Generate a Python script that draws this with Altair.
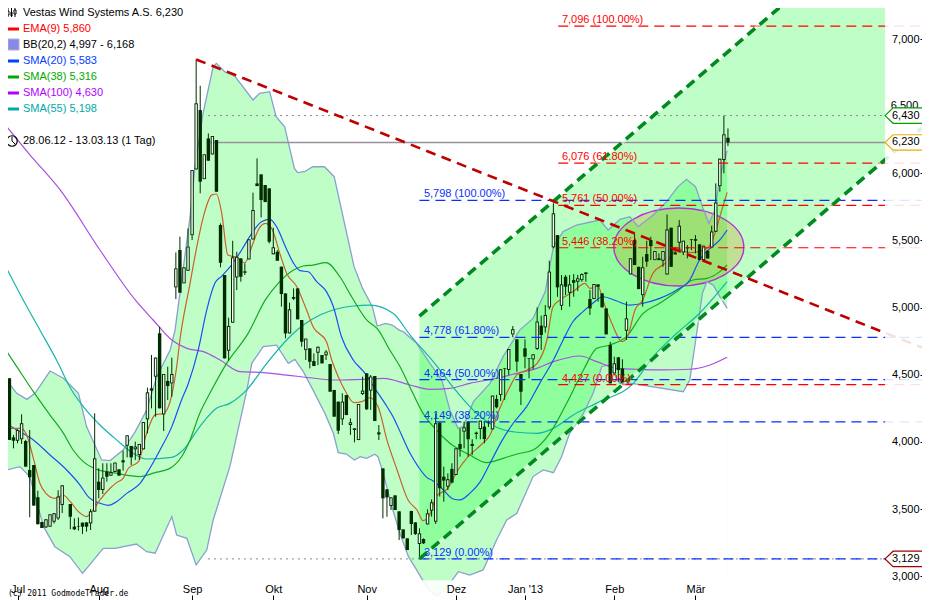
import altair as alt
import pandas as pd

FONT = "Liberation Sans"

# ---------- candles (session index = list position; None = no bar) ----------
body_top = [4114,4429,4474,4034,4089,4139,4007,3791,3828,3588,3404,3424,3461,3469,3593,3677,None,3538,3369,3372,
 3399,3401,3483,3878,3704,3734,3779,3774,3846,3796,3863,4049,3970,3965,3985,4148,4369,4399,4628,4809,
 4506,4454,4506,5292,5429,5300,5454,6024,6521,6471,6141,6260,6278,6248,5615,5243,4863,5374,5379,5367,
 5270,5508,5727,5925,5992,5913,5888,5449,5416,5305,5106,4987,5079,5143,4908,4769,4697,4602,4709,4647,
 4672,4580,4387,4300,4300,4349,4146,4101,4282,4382,4511,4486,4491,4071,3803,3647,3587,3602,3483,3349,
 3282,3486,3401,3319,3277,3468,3550,4139,4144,3741,3722,3799,3952,3985,4109,4151,3985,4069,4158,4114,
 4146,4345,4320,4541,4548,4692,4839,4764,4506,4697,4623,4652,4896,4866,4945,5268,5702,5540,5173,5230,
 5173,5205,5218,5250,5262,5064,5176,5173,5106,4994,4721,4585,4630,4547,4920,5367,5503,5304,5300,5399,
 5503,5421,5367,5421,5582,5595,5411,5610,5498,5451,5510,5510,5471,5461,5424,5567,5783,6109,6290,6265]
body_bot = [3940,4183,4015,4009,4009,4020,3816,3737,3526,3387,3359,3364,3369,3406,3431,3531,None,3443,3349,3368,
 3369,3369,3394,3481,3642,3642,3741,3749,3776,3749,3848,3972,3885,3945,3903,3945,4168,4382,4486,4250,
 4205,4416,4436,5151,5111,5181,5275,5540,6029,5938,5957,6094,6141,5863,5334,4622,4679,4888,5225,5230,
 5260,5359,5508,5905,5801,5786,5491,5397,5349,5101,4808,4808,5066,4913,4746,4684,4597,4565,4664,4585,
 4645,4374,4188,4084,4168,4200,4126,4089,4014,4357,4243,4382,4156,4056,3580,3587,3523,3493,3344,3282,
 3195,3389,3314,3240,3245,3386,3488,3406,3655,3712,3667,3697,3754,3948,4077,4020,3970,4059,4096,4022,
 4139,4094,4258,4350,4543,4536,4801,4598,4374,4635,4618,4615,4692,4796,4853,5002,5449,5151,5014,5156,
 5111,5185,5193,5205,5250,4994,5064,5156,5002,4801,4436,4510,4535,4436,4828,5248,5317,5138,5093,5342,
 5458,5354,5354,5349,5247,5304,5396,5483,5411,5441,5505,5498,5354,5354,5366,5448,5565,5905,6099,6230]
high = [4139,4437,4474,4052,4094,4206,4015,4089,3828,3637,3404,3424,3461,3469,3640,3677,None,3538,3431,3437,
 3399,3401,3500,4213,3804,3841,3841,3841,3846,3796,3935,4049,3970,4002,3985,4148,4404,4647,4628,4858,
 4506,4560,4628,5411,5528,5300,5590,6024,6848,6652,6141,6297,6278,6248,5627,5243,4925,5498,5416,5367,
 5330,5508,5856,6111,5992,5913,5888,5595,5428,5305,5106,5037,5143,5143,4908,4769,4697,4659,4709,4647,
 4684,4580,4387,4300,4362,4349,4176,4101,4282,4486,4511,4498,4491,4126,3803,3647,3587,3602,3483,3349,
 3282,3486,3401,3357,3282,3498,3572,4213,4144,3816,3766,3841,3952,4101,4151,4151,4020,4077,4158,4151,
 4160,4345,4350,4541,4548,4692,4863,4764,4506,4764,4623,4652,5002,4940,5020,5350,5801,5540,5243,5243,
 5243,5250,5243,5255,5262,5131,5176,5173,5106,4994,4746,4635,4630,4615,5044,5367,5548,5304,5379,5498,
 5528,5421,5404,5421,5694,5595,5453,5652,5498,5466,5510,5540,5471,5461,5424,5610,5925,6109,6429,6334]
low = [3890,4163,4015,3952,3990,3985,3816,3439,3526,3387,3359,3359,3369,3392,3419,3470,None,3350,3344,3340,
 3315,3332,3344,3481,3580,3612,3704,3749,3776,3749,3786,3885,3828,3866,3866,3945,4064,4250,4188,4250,
 4081,4312,4337,5064,5111,5181,5275,5503,6029,5851,5957,6094,6141,5863,5300,4622,4605,4888,5131,5193,
 5243,5359,5508,5905,5672,5786,5478,5397,5349,5007,4771,4808,5056,4913,4709,4610,4548,4565,4572,4585,
 4610,4374,4188,4059,4126,4200,4052,3997,4014,4349,4238,4238,4156,4014,3431,3443,3493,3493,3270,3282,
 3195,3307,3307,3129,3240,3386,3443,3389,3593,3555,3642,3692,3754,3890,3952,3890,3903,4020,4020,3990,
 4112,4094,4250,4305,4313,4499,4779,4523,4275,4548,4474,4541,4685,4685,4814,4987,5441,5081,4982,5094,
 5007,5081,5123,5193,5193,4945,5064,5044,5002,4801,4436,4510,4448,4423,4759,5248,5317,5138,5007,5304,
 5354,5354,5354,5304,5247,5304,5396,5416,5391,5367,5429,5404,5354,5354,5366,5448,5565,5863,6000,6203]
hollow = [1,1,0,0,1,1,0,0,0,0,0,1,1,1,1,1,None,0,0,0,
 0,0,1,1,0,1,0,1,1,0,1,1,0,1,1,1,1,0,1,0,
 1,0,1,1,0,1,1,1,1,0,1,0,1,0,0,0,1,1,1,0,
 0,1,1,0,0,0,0,1,0,0,0,1,0,0,0,1,0,0,1,0,
 1,0,0,0,1,0,1,0,1,1,0,1,0,1,0,0,1,0,0,0,
 0,0,0,1,0,1,1,1,0,0,1,0,1,0,1,0,0,0,1,0,
 0,1,0,1,0,1,1,0,0,0,0,1,1,0,1,1,1,0,1,0,
 1,0,1,1,0,0,1,0,0,0,0,1,0,0,1,1,0,0,1,0,
 0,1,0,1,1,0,1,1,1,0,0,0,0,1,0,1,1,1,1,0]

# ---------- Bollinger band edges ----------
upper_s = [0,1.3,3.8,6.3,8.3,12,15.3,19,21,24.7,26.8,30,33,35.8,38.3,41.6,42.8,46.5,47.7,49.7,52.2,53,55,57.5,62,63.6,66.1,67.7,69.8,72.2,73,74.7,76.7,79.6,82,84,86.9,89,91.4,92.6,94.7,96.3,98,99,102.3,105.6,108.5,110.5,112.5,113.8,116.3,120.4,123.6,127.7,131,134,136,138.4,141.7,147.4,149.5,152.4,154.8,156.9,160.6,163.9,166.7,168.8,171,172.7,174.3,175.8,177,178.8]
upper_p = [4623,4461,4362,4317,4362,4528,4474,4362,4114,3866,3861,3939,4077,4238,4486,4685,4833,5677,6049,6446,6794,6819,6757,6724,6546,6595,6608,6422,6347,6037,6005,6012,6049,6049,5975,5702,5305,5143,5007,4863,4883,4870,4833,4821,4734,4585,4461,4238,4101,4114,4300,4436,4635,4833,4920,5119,5454,5566,5615,5652,5578,5657,5677,5603,5690,5789,5901,5955,5901,5752,5628,5727,5975,6169]
lower_s = [0,1.3,4.6,7,10.4,13.2,16.9,20,21.4,25.1,28,33.3,35.8,37.9,42,43.2,45.7,48,50.6,52.2,56.3,60.5,61.7,64.5,67.8,70.7,72.3,74.4,76.8,79.7,81.8,83,85,87,88.4,90,92,92.8,94.1,96.2,98.2,100.3,102.3,105.2,107.2,109.3,112.6,115.4,118.7,122,124.5,127,131,133.5,136,138,140,143.2,145.8,147.9,149.5,152.4,155.3,168,169.6,171.3,172.7,173.8,175.4,177,178.8]
lower_p = [3717,3791,3816,3742,3369,3220,3146,3022,3071,3208,3208,3240,3183,3171,3444,3307,3282,3084,3195,3419,3816,4386,4585,4709,4721,4585,4615,4523,4386,4213,4064,3920,3910,3865,3890,3878,3908,3890,3766,3518,3319,3146,3047,2898,2853,2898,3034,3009,3047,3270,3419,3469,3742,3791,3771,3890,4064,4201,4362,4560,4573,4436,4436,4374,4461,4809,5106,5193,5168,5082,4995]

# ---------- moving averages ----------
ema_s = [0,2,5,6.4,8,9.5,11,13.2,15.2,17,19,21,22.3,24.3,26.8,28.4,30,31.3,33.8,35.8,37.9,40,41.9,43.2,44,46.5,48,50,51.8,53,54.3,55.8,58,60,61.7,63.3,65,66.6,68.6,70.3,72.8,75.2,76.8,80.1,81.4,83,84.6,86.9,88.8,90.8,92.8,95,97.5,100.2,102.4,103.9,105,106,107.1,110,112.5,115,118.6,120.4,122.3,125.3,127,129.5,132,134.4,135.9,137.6,140.8,143.8,145,147,148.2,150.4,152.9,154.4,156.1,158,160.5,164,166.4,169.6,173.8,175.8,177,178.8]
ema_p = [4064,4101,4101,4039,3866,3692,3617,3580,3605,3555,3481,3444,3481,3568,3655,3697,3729,3804,3853,4064,4201,4213,4337,4560,4759,5181,5429,5702,5838,5846,5702,5392,5374,5334,5454,5578,5627,5590,5404,5255,5156,4982,4858,4746,4610,4486,4387,4292,4300,4329,4263,4014,3791,3567,3493,3414,3431,3493,3593,3655,3791,3890,3990,4052,4213,4412,4499,4536,4585,4759,5007,5056,5118,5181,5143,5161,5056,4883,4746,4796,4982,5056,5255,5342,5441,5409,5441,5553,5677,5858]
sma20_s = [0,3.8,7.9,12,16.1,19.4,21.4,24.3,26.4,28.4,30.9,34.2,36.6,39.1,42,44.4,46,48.5,50.6,52.6,54.3,56.7,59.2,61.7,64.1,66.2,67.8,70,72,73.6,75.6,77.7,80.1,81.8,83.8,86.7,89.6,92,94.5,96.5,98.6,100.7,102.7,105.1,106,108.5,111.3,113,115.4,118,120.4,123.2,126.1,129.4,132.7,136,138.4,140.8,143.3,145.7,148.2,151.6,154.8,157.3,162.2,166.4,169.6,172,174.6,177,178.8]
sma20_p = [4163,4089,4015,3903,3791,3679,3593,3543,3528,3555,3617,3692,3804,3940,4114,4312,4430,4684,4982,5181,5235,5317,5429,5553,5640,5657,5603,5454,5330,5275,5267,5193,5119,5007,4783,4610,4511,4399,4287,4188,4052,3915,3816,3729,3717,3655,3575,3568,3617,3704,3841,4002,4139,4263,4440,4610,4759,4895,4970,5032,5081,5049,5019,5027,5069,5131,5206,5355,5441,5504,5578]
sma38_s = [0,3.8,7.9,12,15.3,17.7,20.2,23.5,27.6,34.2,37.9,41.5,44.4,46.5,48.9,51.8,55.5,60.8,65,68.2,72,74.4,76.8,80,83.4,86.3,90,92.9,95.7,98.2,101,103.9,106.8,110.5,115.4,119.6,123.6,127,131,135.1,139.3,143.4,146.7,149.9,154,158.1,162.2,166.4,170.4,173.8,177,178.8]
sma38_p = [4734,4561,4374,4200,4064,3940,3853,3796,3771,3742,3771,3803,3890,4015,4213,4386,4585,4808,5056,5181,5280,5310,5317,5335,5230,5081,4908,4833,4684,4561,4387,4213,4101,3990,3903,3846,3878,3910,3940,4064,4290,4536,4697,4722,4784,4957,5032,5119,5206,5218,5268,5317]
sma100_s = [0,7.1,14.5,24.3,33,37.4,42,45.7,49.8,53.9,58.8,63.7,70.3,76,82.6,89.2,94.1,100.7,105.6,110.5,115.4,122,127,131.9,136,142.5,146.7,151.6,156.5,163,169.6,174.6,178.8]
sma100_p = [6397,6136,5876,5429,5057,4908,4759,4697,4672,4610,4523,4518,4498,4478,4461,4466,4473,4424,4392,4399,4436,4474,4511,4548,4598,4640,4598,4548,4541,4536,4541,4573,4630]
sma55_s = [0,5.4,9.5,13.6,17.3,20.2,24.3,28.4,32.5,35.8,42,44.8,48.9,53,56.3,60.4,65.4,70.3,74.4,78.5,82.6,86.7,90.8,96.5,100.7,106.4,112.2,117.1,122,127,131.9,136,140.9,147.4,155.7,160.6,166.4,172,178.8]
sma55_p = [5369,5057,4834,4610,4387,4263,4126,4015,3915,3873,3885,3940,4114,4250,4287,4386,4585,4759,4870,4945,4990,5012,5019,4958,4796,4598,4374,4213,4109,4072,4064,4101,4201,4300,4436,4635,4809,4958,5193]

# ---------- drawn objects ----------
fib_blue = [3129, 4149, 4464, 4778, 5798]
fib_blue_txt = ["3,129 (0.00%)", "4,149 (38.20%)", "4,464 (50.00%)", "4,778 (61.80%)", "5,798 (100.00%)"]
fib_red = [4427, 5446, 5761, 6076, 7096]
fib_red_txt = ["4,427 (0.00%)", "5,446 (38.20%)", "5,761 (50.00%)", "6,076 (61.80%)", "7,096 (100.00%)"]
trend_s, trend_p = [48, 226.8], [6848, 4703]
chan_s, chan_low, chan_up = [103, 217.7], [3129, 6099], [4937, 7908]
chan_low_line_s, chan_low_line_p = [103, 226.8], [3129, 6338]
y_ticks = [3000, 3500, 4000, 4500, 5000, 5500, 6000, 7000]
x_ticks = [4, 24, 47, 67, 90, 112, 129, 151, 171]
x_labels = ["Jul", "Aug", "Sep", "Okt", "Nov", "Dez", "Jan '13", "Feb", "Mär"]
legend_rows = [("EMA(9) 5,860", "#ff0000"), ("BB(20,2) 4,997 - 6,168", "#000000"), ("SMA(20) 5,583", "#0040ff"),
               ("SMA(38) 5,316", "#00aa00"), ("SMA(100) 4,630", "#b000ff"), ("SMA(55) 5,198", "#00aaaa")]

W, H = 914, 592
XMIN, XMAX, YMIN, YMAX = 1.65, 226.8, 2823, 7231
END = 217.7
xs = alt.Scale(domain=[XMIN, XMAX], nice=False, zero=False, padding=0)
ys = alt.Scale(domain=[YMIN, YMAX], nice=False, zero=False, padding=0)
xaxis = alt.Axis(orient="top", offset=-H, values=x_ticks, domain=False, grid=False, tickSize=5, tickColor="#000",
                 labelFont=FONT, labelFontSize=11, labelColor="#000", labelPadding=1, title=None, zindex=1,
                 labelOverlap=False, labelFlush=False,
                 labelExpr="[" + ",".join('"%s"' % t for t in x_labels) + "][indexof([" + ",".join(map(str, x_ticks)) + "],datum.value)]")
yaxis = alt.Axis(orient="left", offset=-W, values=y_ticks, domain=False, grid=False, tickSize=2, tickColor="#000",
                 labelFont=FONT, labelFontSize=11, labelColor="#000", labelPadding=1, format=",d", title=None, zindex=1,
                 labelOverlap=False)
X = alt.X("s:Q", scale=xs, axis=xaxis, title=None)
Y = alt.Y("p:Q", scale=ys, axis=yaxis, title=None)
Y2 = alt.Y2("p2:Q")

def line(s, p, color, width=1.2, dash=None, opacity=1, interp="linear"):
    kw = dict(color=color, strokeWidth=width, clip=True, opacity=opacity, interpolate=interp)
    if dash:
        kw["strokeDash"] = dash
    return alt.Chart(pd.DataFrame({"s": s, "p": p})).mark_line(**kw).encode(x=X, y=Y)

layers = []

# base: upper-band area, white mask below lower band
up = pd.DataFrame({"s": upper_s, "p": upper_p})
up["p2"] = YMIN
layers.append(alt.Chart(up).mark_area(color="#bfffc7", clip=True).encode(x=X, y=Y, y2=Y2))
lo = pd.DataFrame({"s": lower_s, "p": lower_p})
lo["p2"] = YMIN
layers.append(alt.Chart(lo).mark_area(color="#ffffff", clip=True).encode(x=X, y=Y, y2=Y2))

# channel fill
ch = pd.DataFrame({"s": chan_s, "p": chan_low, "p2": chan_up})
layers.append(alt.Chart(ch).mark_area(color="#00ff1f", opacity=0.25, clip=True).encode(x=X, y=Y, y2=Y2))

# ellipse
layers.append(alt.Chart(pd.DataFrame({"s": [166.9], "p": [5451]})).mark_point(
    shape="M-1,0 A1,0.6 0 1,1 1,0 A1,0.6 0 1,1 -1,0 Z", size=16900, fill="#c88200", fillOpacity=0.25,
    stroke="#b030d8", strokeWidth=1.4, opacity=1, clip=True).encode(x=X, y=Y))

# band edges
layers.append(line(upper_s, upper_p, "#8a9fd0", 1.3))
layers.append(line(lower_s, lower_p, "#8a9fd0", 1.3))

# moving averages
layers.append(line(sma100_s, sma100_p, "#a850e0", 1.2, interp="monotone"))
layers.append(line(sma55_s, sma55_p, "#14b4a8", 1.2, interp="monotone"))
layers.append(line(sma38_s, sma38_p, "#14aa20", 1.2, interp="monotone"))
layers.append(line(sma20_s, sma20_p, "#1a50f0", 1.2, interp="monotone"))
layers.append(line(ema_s, ema_p, "#c8602a", 1.2, interp="monotone"))

# reference lines
def hline(p, s0, s1, color, width=1, dash=None):
    return line([s0, s1], [p, p], color, width, dash)

layers.append(hline(6430, 50.9, END, "#888888", 1, [2, 4]))
layers.append(hline(3129, 50.9, END, "#888888", 1, [2, 4]))
layers.append(hline(6230, 50.9, END, "#98909c", 1.5))

# candles
df = pd.DataFrame({"s": range(len(high)), "top": body_top, "bot": body_bot, "hi": high, "lo": low, "hollow": hollow}).dropna()
DARK = "#002c00"
layers.append(alt.Chart(df).mark_rule(color=DARK, strokeWidth=1, clip=True).encode(
    x=X, y=alt.Y("hi:Q", scale=ys, axis=yaxis, title=None), y2="lo:Q"))
layers.append(alt.Chart(df).mark_rule(strokeWidth=3.4, clip=True, color=DARK).encode(
    x=X, y=alt.Y("top:Q", scale=ys, axis=yaxis, title=None), y2="bot:Q"))
hol = df[(df.hollow == 1) & (df.top - df.bot > 18)].copy()
layers.append(alt.Chart(hol).transform_calculate(a="datum.top-7", b="datum.bot+7").mark_rule(
    strokeWidth=1.4, clip=True, color="#ffffff").encode(
    x=X, y=alt.Y("a:Q", scale=ys, axis=yaxis, title=None), y2="b:Q"))

# fibonacci
for p in fib_blue:
    layers.append(hline(p, 103, XMAX, "#0a30ff", 1.2, [10, 6]))
for p in fib_red:
    layers.append(hline(p, 137.2, XMAX, "#ff0000", 1.2, [10, 6]))

# channel and trend
layers.append(line(chan_s, chan_up, "#ffffff", 3.6, opacity=0.45))
layers.append(line(chan_low_line_s, chan_low_line_p, "#ffffff", 3.6, opacity=0.45))
layers.append(line(chan_s, chan_up, "#008a20", 3.6, [10, 6]))
layers.append(line(chan_low_line_s, chan_low_line_p, "#008a20", 3.6, [10, 6]))
layers.append(line(trend_s, trend_p, "#c00000", 2.6, [10, 6.5]))

# translucent overlays on the right and bottom margins
ov = pd.DataFrame({"s": [END, XMIN], "s2": [XMAX, END], "p": [YMIN, YMIN], "p2": [YMAX, 2970]})
layers.append(alt.Chart(ov).mark_rect(color="#ffffff", opacity=0.88, clip=True).encode(
    x=X, x2="s2:Q", y=Y, y2=Y2))

# fib labels
lab = pd.DataFrame({"p": fib_blue, "t": fib_blue_txt})
lab["s"] = 104.1
layers.append(alt.Chart(lab).mark_text(align="left", baseline="bottom", dy=-1, font=FONT, fontSize=11, color="#0a30ff").encode(x=X, y=Y, text="t:N"))
lab = pd.DataFrame({"p": fib_red, "t": fib_red_txt})
lab["s"] = 138.1
layers.append(alt.Chart(lab).mark_text(align="left", baseline="bottom", dy=-1, font=FONT, fontSize=11, color="#ff0000").encode(x=X, y=Y, text="t:N"))

# 6,500 label partly hidden under the price tag, as in the reference
layers.append(alt.Chart(pd.DataFrame({"s": [225.9], "p": [6500], "t": ["6,500"]})).mark_text(
    align="right", baseline="middle", font=FONT, fontSize=11, color="#000").encode(x=X, y=Y, text="t:N"))

# price tags
tags = [(6430, "6,430", "#00a000"), (6230, "6,230", "#e8b000"), (3129, "3,129", "#a00000")]
TAG = "M0,0 L0.4,-0.385 L2.5,-0.385 L2.5,0.385 L0.4,0.385 Z"
for p, t, c in tags:
    d = pd.DataFrame({"s": [END], "p": [p]})
    layers.append(alt.Chart(d).mark_point(shape=TAG, size=1600, fill="#ffffff", stroke=c, strokeWidth=1.2, opacity=1, clip=True).encode(x=X, y=Y))
    d = pd.DataFrame({"s": [222.8], "p": [p], "t": [t]})
    layers.append(alt.Chart(d).mark_text(align="center", baseline="middle", font=FONT, fontSize=11, color="#000").encode(x=X, y=Y, text="t:N"))

# ---------- legend block, placed in screen pixels ----------
one = pd.DataFrame({"a": [0]})
def txt(x, y, t, color="#000000", font=FONT, size=11):
    return alt.Chart(one).mark_text(align="left", baseline="middle", font=font, fontSize=size, color=color, text=t).encode(
        x=alt.value(x - 8), y=alt.value(y - 8))
def seg(x0, y0, x1, y1, color, w):
    return alt.Chart(one).mark_rule(color=color, strokeWidth=w).encode(
        x=alt.value(x0 - 8), x2=alt.value(x1 - 8), y=alt.value(y0 - 8), y2=alt.value(y1 - 8))

layers.append(txt(23, 13, "Vestas Wind Systems A.S. 6,230"))
for xc in (8, 11.5, 15):
    layers.append(seg(xc, 8, xc, 17, "#000", 1))
layers.append(alt.Chart(one).mark_rect(color="#ffffff", stroke="#000", strokeWidth=1).encode(
    x=alt.value(-1), x2=alt.value(1), y=alt.value(3), y2=alt.value(7)))
layers.append(alt.Chart(one).mark_rect(color="#000").encode(
    x=alt.value(2.5), x2=alt.value(4.5), y=alt.value(4), y2=alt.value(8)))
layers.append(alt.Chart(one).mark_rect(color="#ffffff", stroke="#000", strokeWidth=1).encode(
    x=alt.value(6), x2=alt.value(8), y=alt.value(2), y2=alt.value(6)))
for i, (t, c) in enumerate(legend_rows):
    yy = 29 + 16 * i
    layers.append(txt(23, yy, t, c))
    if t.startswith("BB"):
        layers.append(alt.Chart(one).mark_rect(color="#8888e8", stroke="#b0b0d8", strokeWidth=1).encode(
            x=alt.value(0), x2=alt.value(11), y=alt.value(yy - 14), y2=alt.value(yy - 3)))
    else:
        layers.append(seg(7, yy, 19, yy, c, 3))
layers.append(alt.Chart(one).mark_point(shape="circle", size=110, filled=False, stroke="#000", strokeWidth=1.2, opacity=1).encode(
    x=alt.value(4), y=alt.value(133)))
layers.append(seg(12, 136.5, 12, 141, "#000", 1))
layers.append(seg(12, 141, 15, 144, "#000", 1))
layers.append(txt(23, 141, "28.06.12 - 13.03.13 (1 Tag)"))
layers.append(txt(8, 594, "(c) 2011 GodmodeTrader.de", font="DejaVu Sans Mono", size=8))

chart = alt.layer(*layers).properties(
    width=W, height=H, padding=0, autosize=alt.AutoSizeParams(type="none"), background="#ffffff"
).configure_view(stroke=None)

chart.save("out.html", embed_options={"renderer": "svg", "actions": False})
